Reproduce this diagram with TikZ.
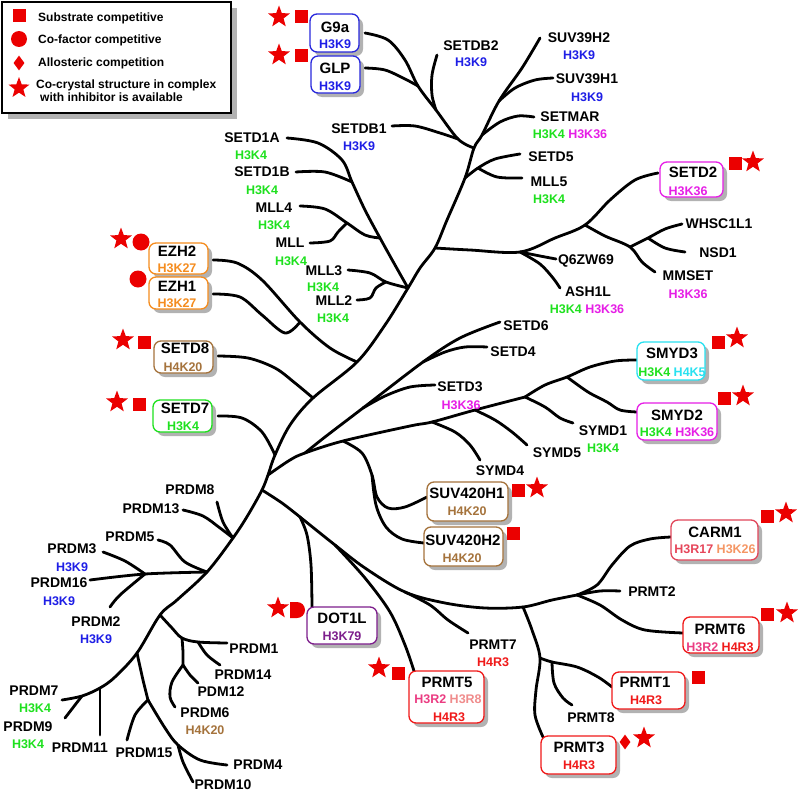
\documentclass[tikz,border=0pt]{standalone}
\usepackage{fontspec}
\setmainfont{Liberation Sans}
\usetikzlibrary{shapes.geometric,shadows,fit}
\definecolor{cKnine}{RGB}{30,30,230}
\definecolor{cKfour}{RGB}{30,225,30}
\definecolor{cKtsix}{RGB}{230,30,230}
\definecolor{cKtseven}{RGB}{245,140,30}
\definecolor{cKtwenty}{RGB}{165,115,60}
\definecolor{cKfive}{RGB}{40,225,240}
\definecolor{cKsnine}{RGB}{125,30,140}
\definecolor{cRthree}{RGB}{240,25,25}
\definecolor{cRtwo}{RGB}{235,60,130}
\definecolor{cReight}{RGB}{240,140,140}
\definecolor{cRseventeen}{RGB}{230,70,90}
\definecolor{cKtwentysix}{RGB}{245,150,100}
\definecolor{mred}{RGB}{235,0,0}
\definecolor{bxblue}{RGB}{40,40,220}
\definecolor{bxcarm}{RGB}{225,70,90}
\begin{document}
\begin{tikzpicture}[x=1pt,y=-1pt,
  br/.style={line width=2.8pt, line cap=round, line join=round},
  lb/.style={font=\fontsize{14}{16}\selectfont\bfseries, inner sep=0pt},
  mk/.style={font=\fontsize{12.5}{14}\selectfont\bfseries, inner sep=0pt},
  bn/.style={font=\fontsize{15}{17}\selectfont\bfseries, inner sep=0pt},
  lg/.style={font=\fontsize{12}{14}\selectfont\bfseries, inner sep=0pt, anchor=base west},
  bx/.style={draw, rounded corners=7pt, line width=1.3pt, fill=white, inner sep=0pt,
    drop shadow={shadow xshift=4pt, shadow yshift=-4pt, fill=black!30, opacity=1}},
  sq/.style={rectangle, fill=mred, minimum size=13pt, inner sep=0pt},
  ci/.style={circle, fill=mred, minimum size=17pt, inner sep=0pt},
  di/.style={diamond, fill=mred, minimum width=11pt, minimum height=15pt, inner sep=0pt},
  st/.style={star, star points=5, star point ratio=2.4, fill=mred, minimum size=23pt, inner sep=0pt}
]
\useasboundingbox (0,0) rectangle (800,792);
\fill[white] (0,0) rectangle (800,792);

% ---------- legend ----------
\node[draw, line width=1.2pt, fill=white, inner sep=0pt,
  drop shadow={shadow xshift=6pt, shadow yshift=-6pt, fill=black!30, opacity=1},
  fit={(2,2) (231,113)}] (legend) {};
\node[sq] (lgsq) at (19,16) {};
\node[ci, minimum size=16pt] (lgci) at (19,39) {};
\node[di] (lgdi) at (19,63) {};
\node[st, minimum size=22pt] (lgst) at (19,88) {};
\node[lg] (lgt1) at (38,21.5) {Substrate competitive};
\node[lg] (lgt2) at (38,43.3) {Co-factor competitive};
\node[lg] (lgt3) at (38,66.5) {Allosteric competition};
\node[lg] (lgt4) at (36,88.3) {Co-crystal structure in complex};
\node[lg] (lgt5) at (40,101.7) {with inhibitor is available};

% ---------- junction coordinates ----------
\coordinate (tA) at (499,101);
\coordinate (tB) at (482,135);
\coordinate (tC) at (474,148);
\coordinate (tD) at (465,178);
\coordinate (tE) at (435,248);
\coordinate (tF) at (408,288);
\coordinate (tG) at (357,362);
\coordinate (tH) at (313,398);
\coordinate (hub) at (275,455);
\coordinate (tI) at (268,475);
\coordinate (tJ) at (262,490);
\coordinate (pA) at (233,538);
\coordinate (pB) at (207,572);
\coordinate (pC) at (160,615);
\coordinate (pD) at (137,653);
\coordinate (pE) at (100,688);

% ---------- main trunk ----------
\draw[br] plot[smooth,tension=0.55] coordinates {(540,38) (522,68) (tA) (tB) (tC) (tD) (447,220) (tE) (420,268) (tF) (385,325) (tG) (tH) (290,425) (hub) (tI) (tJ) (248,515) (pA) (pB) (177,600) (pC) (pD) (115,677) (pE) (82,696) (62,700)};

% SETDB clade
\coordinate (sC) at (418,86);
\coordinate (sD) at (436,110);
\coordinate (sE) at (458,139);
\draw[br] plot[smooth,tension=0.55] coordinates {(365,33) (388,40) (405,60) (sC) (sD) (sE) (tC)};
\draw[br] plot[smooth,tension=0.55] coordinates {(365,68) (385,70) (405,79) (sC)};
\draw[br] plot[smooth,tension=0.55] coordinates {(437,55) (432,75) (432,95) (sD)};
\draw[br] plot[smooth,tension=0.55] coordinates {(392,126) (415,126) (440,133) (sE)};
% SUV39 / SETMAR / SETD5 / MLL5
\draw[br] plot[smooth,tension=0.55] coordinates {(tA) (515,88) (535,80) (553,78)};
\draw[br] plot[smooth,tension=0.55] coordinates {(tB) (500,122) (518,116) (534,117)};
\coordinate (sF) at (478,168);
\draw[br] plot[smooth,tension=0.55] coordinates {(tD) (sF) (495,159) (520,154)};
\draw[br] plot[smooth,tension=0.55] coordinates {(sF) (497,177) (522,178)};
% SETD2 clade
\coordinate (qJ) at (520,252);
\coordinate (wJ) at (585,225);
\coordinate (mJ) at (630,247);
\coordinate (nJ) at (648,238);
\draw[br] plot[smooth,tension=0.55] coordinates {(tE) (470,250) (qJ) (555,238) (wJ) (610,200) (635,180) (658,173)};
\draw[br] plot[smooth,tension=0.55] coordinates {(qJ) (540,256) (556,259)};
\draw[br] plot[smooth,tension=0.55] coordinates {(qJ) (540,264) (553,278) (560,288)};
\draw[br] plot[smooth,tension=0.55] coordinates {(wJ) (605,236) (mJ) (642,262) (655,272)};
\draw[br] plot[smooth,tension=0.55] coordinates {(mJ) (nJ) (665,229) (682,224)};
\draw[br] plot[smooth,tension=0.55] coordinates {(nJ) (665,248) (685,252)};
% SETD1 / MLL clade
\coordinate (s1J) at (352,182);
\coordinate (m4J) at (380,238);
\coordinate (mlJ) at (347,223);
\coordinate (m3J) at (386,282);
\draw[br] plot[smooth,tension=0.55] coordinates {(287,138) (318,143) (342,160) (s1J) (365,210) (m4J) (395,265) (tF)};
\draw[br] plot[smooth,tension=0.55] coordinates {(296,172) (325,172) (s1J)};
\draw[br] plot[smooth,tension=0.55] coordinates {(300,206) (325,209) (mlJ) (365,235) (m4J)};
\draw[br] plot[smooth,tension=0.55] coordinates {(310,243) (330,241) (338,232) (mlJ)};
\draw[br] plot[smooth,tension=0.55] coordinates {(348,270) (370,273) (m3J) (tF)};
\draw[br] plot[smooth,tension=0.55] coordinates {(357,300) (370,298) (376,288) (m3J)};
% EZH clade
\coordinate (eJ) at (300,322);
\draw[br] plot[smooth,tension=0.55] coordinates {(213,260) (237,263) (262,280) (eJ) (330,348) (tG)};
\draw[br] plot[smooth,tension=0.55] coordinates {(213,294) (240,297) (262,315) (285,333) (eJ)};
% SETD8, SETD7
\draw[br] plot[smooth,tension=0.55] coordinates {(218,356) (248,358) (275,368) (295,383) (tH)};
\draw[br] plot[smooth,tension=0.55] coordinates {(218,416) (242,418) (262,432) (hub)};
% SMYD clade
\coordinate (s6J) at (305,453);
\coordinate (svJ) at (343,441);
\coordinate (y4J) at (432,422);
\coordinate (y5J) at (475,410);
\coordinate (smJ) at (525,397);
\coordinate (d3J) at (363,408);
\coordinate (d4J) at (423,362);
\coordinate (h2J) at (372,475);
\coordinate (myJ) at (567,377);
\draw[br] plot[smooth,tension=0.55] coordinates {(tI) (290,460) (s6J) (svJ) (410,426) (y4J) (y5J) (smJ)};
\draw[br] plot[smooth,tension=0.55] coordinates {(s6J) (325,437) (d3J) (d4J) (460,338) (500,322)};
\draw[br] plot[smooth,tension=0.55] coordinates {(d4J) (445,352) (465,347) (487,347)};
\draw[br] plot[smooth,tension=0.55] coordinates {(d3J) (385,396) (410,387) (435,385)};
\draw[br] plot[smooth,tension=0.55] coordinates {(svJ) (362,453) (h2J) (377,497) (388,508) (405,507) (427,497)};
\draw[br] plot[smooth,tension=0.55] coordinates {(h2J) (376,505) (386,527) (402,539) (424,543)};
\draw[br] plot[smooth,tension=0.55] coordinates {(y4J) (455,432) (470,445) (480,460)};
\draw[br] plot[smooth,tension=0.55] coordinates {(y5J) (495,420) (512,432) (527,445)};
\draw[br] plot[smooth,tension=0.55] coordinates {(smJ) (545,407) (560,418) (573,423)};
\draw[br] plot[smooth,tension=0.55] coordinates {(smJ) (545,385) (myJ) (590,367) (615,361) (637,360)};
\draw[br] plot[smooth,tension=0.55] coordinates {(myJ) (588,392) (607,402) (620,410) (637,412)};
% DOT1L / PRMT clade
\coordinate (dJ) at (300,517);
\coordinate (p5J) at (335,545);
\coordinate (p7J) at (405,592);
\coordinate (r1J) at (523,607);
\coordinate (caJ) at (577,595);
\coordinate (p1J) at (540,658);
\coordinate (p8J) at (552,662);
\draw[br] plot[smooth,tension=0.55] coordinates {(tJ) (282,503) (dJ)};
\draw[br] plot[smooth,tension=0.55] coordinates {(dJ) (307,535) (311,565) (312,607)};
\draw[br] plot[smooth,tension=0.55] coordinates {(dJ) (p5J) (365,568) (p7J) (445,603) (485,608) (r1J) (552,600) (caJ)};
\draw[br] plot[smooth,tension=0.55] coordinates {(p5J) (365,578) (390,612) (405,645) (414,671)};
\draw[br] plot[smooth,tension=0.55] coordinates {(p7J) (430,605) (448,620) (468,633)};
\draw[br] plot[smooth,tension=0.55] coordinates {(caJ) (597,585) (612,565) (630,546) (650,539) (671,537)};
\draw[br] plot[smooth,tension=0.55] coordinates {(caJ) (600,591) (620,591)};
\draw[br] plot[smooth,tension=0.55] coordinates {(caJ) (600,605) (622,620) (645,630) (683,633)};
\draw[br] plot[smooth,tension=0.55] coordinates {(r1J) (532,630) (p1J) (536,690) (535,715) (543,737)};
\draw[br] plot[smooth,tension=0.55] coordinates {(p1J) (p8J) (577,667) (598,677) (612,687)};
\draw[br] plot[smooth,tension=0.55] coordinates {(p8J) (554,683) (563,698) (572,705)};
% PRDM clade
\coordinate (p3J) at (145,574);
\coordinate (q1J) at (182,638);
\coordinate (q14J) at (198,642);
\coordinate (q6J) at (183,665);
\coordinate (q15J) at (148,700);
\coordinate (q10J) at (178,745);
\draw[br] plot[smooth,tension=0.55] coordinates {(217,502) (223,522) (pA)};
\draw[br] plot[smooth,tension=0.55] coordinates {(183,510) (203,516) (220,528) (pA)};
\draw[br] plot[smooth,tension=0.55] coordinates {(158,540) (170,545) (185,562) (pB)};
\draw[br] plot[smooth,tension=0.55] coordinates {(90,580) (p3J) (pB)};
\draw[br] plot[smooth,tension=0.55] coordinates {(103,552) (125,561) (p3J)};
\draw[br] plot[smooth,tension=0.55] coordinates {(110,607) (120,595) (p3J)};
\draw[br] plot[smooth,tension=0.55] coordinates {(pC) (172,628) (q1J) (q14J) (227,643)};
\draw[br] plot[smooth,tension=0.55] coordinates {(q14J) (207,655) (220,665)};
\draw[br] plot[smooth,tension=0.55] coordinates {(q1J) (183,652) (q6J)};
\draw[br] plot[smooth,tension=0.55] coordinates {(q6J) (190,675) (198,683)};
\draw[br] plot[smooth,tension=0.55] coordinates {(q6J) (172,682) (170,697) (175,707)};
\draw[br] plot[smooth,tension=0.55] coordinates {(pD) (143,680) (q15J)};
\draw[br] plot[smooth,tension=0.55] coordinates {(q15J) (135,715) (127,740)};
\draw[br] plot[smooth,tension=0.55] coordinates {(q15J) (165,728) (q10J) (200,760) (227,765)};
\draw[br] plot[smooth,tension=0.55] coordinates {(q10J) (183,762) (193,782)};
\draw[br] (pE) -- (100,735);
\draw[br] plot[smooth,tension=0.55] coordinates {(65,718) (75,705) (82,696)};

% ---------- boxes ----------
\node[bx, draw=bxblue, fit={(310,14) (359,52)}] (g9a) {};
\node[bx, draw=bxblue, fit={(311,56) (360,93)}] (glp) {};
\node[bx, draw=cKtseven, fit={(149,243) (208,274)}] (ezh2) {};
\node[bx, draw=cKtseven, fit={(149,277) (208,309)}] (ezh1) {};
\node[bx, draw=cKtwenty, fit={(154,341) (213,373)}] (setd8) {};
\node[bx, draw=cKfour, fit={(153,400) (212,432)}] (setd7) {};
\node[bx, draw=cKtsix, fit={(660,162) (723,197)}] (setd2) {};
\node[bx, draw=cKfive, fit={(637,342) (705,380)}] (smyd3) {};
\node[bx, draw=cKtsix, fit={(637,403) (717,440)}] (smyd2) {};
\node[bx, draw=cKtwenty, fit={(427,482) (508,521)}] (suv1) {};
\node[bx, draw=cKtwenty, fit={(424,527) (503,566)}] (suv2) {};
\node[bx, draw=cKsnine, fit={(307,607) (377,644)}] (dot1l) {};
\node[bx, draw=cRthree, fit={(409,671) (484,723)}] (prmt5) {};
\node[bx, draw=bxcarm, fit={(671,520) (758,560)}] (carm1) {};
\node[bx, draw=cRthree, fit={(683,617) (759,653)}] (prmt6) {};
\node[bx, draw=cRthree, fit={(612,672) (685,709)}] (prmt1) {};
\node[bx, draw=cRthree, fit={(541,736) (616,774)}] (prmt3) {};

% box texts
\node[bn] (g9a-n) at (335,27) {G9a};
\node[mk, text=cKnine] (g9a-m) at (335,44) {H3K9};
\node[bn] (glp-n) at (335,68) {GLP};
\node[mk, text=cKnine] (glp-m) at (335,86) {H3K9};
\node[bn] (ezh2-n) at (177,251) {EZH2};
\node[mk, text=cKtseven] (ezh2-m) at (177,268) {H3K27};
\node[bn] (ezh1-n) at (177,286) {EZH1};
\node[mk, text=cKtseven] (ezh1-m) at (177,303) {H3K27};
\node[bn] (setd8-n) at (185,348) {SETD8};
\node[mk, text=cKtwenty] (setd8-m) at (183,367) {H4K20};
\node[bn] (setd7-n) at (185,408) {SETD7};
\node[mk, text=cKfour] (setd7-m) at (183,426) {H3K4};
\node[bn] (setd2-n) at (693,172) {SETD2};
\node[mk, text=cKtsix] (setd2-m) at (688,191) {H3K36};
\node[bn] (smyd3-n) at (672,353) {SMYD3};
\node[mk] (smyd3-m) at (672,372) {\textcolor{cKfour}{H3K4} \textcolor{cKfive}{H4K5}};
\node[bn] (smyd2-n) at (677,415) {SMYD2};
\node[mk] (smyd2-m) at (677,432) {\textcolor{cKfour}{H3K4} \textcolor{cKtsix}{H3K36}};
\node[bn] (suv1-n) at (467,493) {SUV420H1};
\node[mk, text=cKtwenty] (suv1-m) at (467,511) {H4K20};
\node[bn] (suv2-n) at (463,540) {SUV420H2};
\node[mk, text=cKtwenty] (suv2-m) at (462,558) {H4K20};
\node[bn] (dot1l-n) at (342,618) {DOT1L};
\node[mk, text=cKsnine] (dot1l-m) at (342,636) {H3K79};
\node[bn] (prmt5-n) at (447,682) {PRMT5};
\node[mk] (prmt5-m) at (448,699) {\textcolor{cRtwo}{H3R2} \textcolor{cReight}{H3R8}};
\node[mk, text=cRthree] (prmt5-k) at (449,717) {H4R3};
\node[bn] (carm1-n) at (715,532) {CARM1};
\node[mk] (carm1-m) at (715,549) {\textcolor{cRseventeen}{H3R17} \textcolor{cKtwentysix}{H3K26}};
\node[bn] (prmt6-n) at (720,629) {PRMT6};
\node[mk] (prmt6-m) at (720,647) {\textcolor{cRtwo}{H3R2} \textcolor{cRthree}{H4R3}};
\node[bn] (prmt1-n) at (645,682) {PRMT1};
\node[mk, text=cRthree] (prmt1-m) at (646,700) {H4R3};
\node[bn] (prmt3-n) at (579,747) {PRMT3};
\node[mk, text=cRthree] (prmt3-m) at (579,765) {H4R3};

% ---------- markers ----------
\node[st] (m1) at (279,17) {};  \node[sq] (m2) at (301,17) {};
\node[st] (m3) at (279,55) {};  \node[sq] (m4) at (301,56) {};
\node[st] (m5) at (121,239) {}; \node[ci] (m6) at (141,242) {};
\node[ci] (m7) at (138,279) {};
\node[st] (m8) at (123,340) {}; \node[sq] (m9) at (144,342) {};
\node[st] (m10) at (117,402) {}; \node[sq] (m11) at (139,404) {};
\node[sq] (m12) at (735,163) {}; \node[st] (m13) at (753,162) {};
\node[sq] (m14) at (718,342) {}; \node[st] (m15) at (737,338) {};
\node[sq] (m16) at (724,398) {}; \node[st] (m17) at (743,396) {};
\node[sq] (m18) at (518,490) {}; \node[st] (m19) at (537,488) {};
\node[sq] (m20) at (513,533) {};
\node[st] (m21) at (278,608) {};
\fill[mred] (297,602) arc[start angle=-90, end angle=90, radius=8] -- (290,618) -- (290,602) -- cycle;
\node[st] (m22) at (379,668) {}; \node[sq] (m23) at (398,673) {};
\node[sq] (m24) at (767,516) {}; \node[st] (m25) at (786,513) {};
\node[sq] (m26) at (767,614) {}; \node[st] (m27) at (787,613) {};
\node[sq] (m28) at (698,677) {};
\node[di] (m29) at (625,742) {}; \node[st] (m30) at (644,738) {};

% ---------- leaf labels ----------
\node[lb] (l1) at (471,46) {SETDB2};  \node[mk, text=cKnine] (l1m) at (471,62) {H3K9};
\node[lb] (l2) at (359,129) {SETDB1}; \node[mk, text=cKnine] (l2m) at (359,146) {H3K9};
\node[lb] (l3) at (579,38) {SUV39H2}; \node[mk, text=cKnine] (l3m) at (579,55) {H3K9};
\node[lb] (l4) at (587,79) {SUV39H1}; \node[mk, text=cKnine] (l4m) at (587,97) {H3K9};
\node[lb] (l5) at (570,117) {SETMAR};
\node[mk] (l5m) at (570,134) {\textcolor{cKfour}{H3K4} \textcolor{cKtsix}{H3K36}};
\node[lb] (l6) at (551,157) {SETD5};
\node[lb] (l7) at (549,182) {MLL5}; \node[mk, text=cKfour] (l7m) at (549,199) {H3K4};
\node[lb] (l8) at (252,138) {SETD1A}; \node[mk, text=cKfour] (l8m) at (251,155) {H3K4};
\node[lb] (l9) at (262,172) {SETD1B}; \node[mk, text=cKfour] (l9m) at (262,190) {H3K4};
\node[lb] (l10) at (274,208) {MLL4}; \node[mk, text=cKfour] (l10m) at (274,225) {H3K4};
\node[lb] (l11) at (290,243) {MLL}; \node[mk, text=cKfour] (l11m) at (291,261) {H3K4};
\node[lb] (l12) at (324,271) {MLL3}; \node[mk, text=cKfour] (l12m) at (323,287) {H3K4};
\node[lb] (l13) at (334,301) {MLL2}; \node[mk, text=cKfour] (l13m) at (333,318) {H3K4};
\node[lb] (l14) at (719,224) {WHSC1L1};
\node[lb] (l15) at (718,253) {NSD1};
\node[lb] (l16) at (688,276) {MMSET}; \node[mk, text=cKtsix] (l16m) at (688,294) {H3K36};
\node[lb] (l17) at (586,261) {Q6ZW69};
\node[lb] (l18) at (588,292) {ASH1L};
\node[mk] (l18m) at (587,309) {\textcolor{cKfour}{H3K4} \textcolor{cKtsix}{H3K36}};
\node[lb] (l19) at (526,326) {SETD6};
\node[lb] (l20) at (513,352) {SETD4};
\node[lb] (l21) at (460,387) {SETD3}; \node[mk, text=cKtsix] (l21m) at (461,405) {H3K36};
\node[lb] (l22) at (603,431) {SYMD1}; \node[mk, text=cKfour] (l22m) at (603,448) {H3K4};
\node[lb] (l23) at (557,453) {SYMD5};
\node[lb] (l24) at (500,471) {SYMD4};
\node[lb] (l25) at (652,592) {PRMT2};
\node[lb] (l26) at (493,645) {PRMT7}; \node[mk, text=cRthree] (l26m) at (493,662) {H4R3};
\node[lb] (l27) at (591,718) {PRMT8};
\node[lb] (l28) at (190,490) {PRDM8};
\node[lb] (l29) at (151,509) {PRDM13};
\node[lb] (l30) at (130,537) {PRDM5};
\node[lb] (l31) at (72,549) {PRDM3}; \node[mk, text=cKnine] (l31m) at (72,567) {H3K9};
\node[lb] (l32) at (59,583) {PRDM16}; \node[mk, text=cKnine] (l32m) at (59,601) {H3K9};
\node[lb] (l33) at (96,622) {PRDM2}; \node[mk, text=cKnine] (l33m) at (96,639) {H3K9};
\node[lb] (l34) at (254,649) {PRDM1};
\node[lb] (l35) at (243,675) {PRDM14};
\node[lb] (l36) at (221,692) {PDM12};
\node[lb] (l37) at (205,713) {PRDM6}; \node[mk, text=cKtwenty] (l37m) at (205,730) {H4K20};
\node[lb] (l38) at (34,691) {PRDM7}; \node[mk, text=cKfour] (l38m) at (35,708) {H3K4};
\node[lb] (l39) at (28,727) {PRDM9}; \node[mk, text=cKfour] (l39m) at (28,744) {H3K4};
\node[lb] (l40) at (80,748) {PRDM11};
\node[lb] (l41) at (144,753) {PRDM15};
\node[lb] (l42) at (258,765) {PRDM4};
\node[lb] (l43) at (223,785) {PRDM10};
\end{tikzpicture}
\end{document}
